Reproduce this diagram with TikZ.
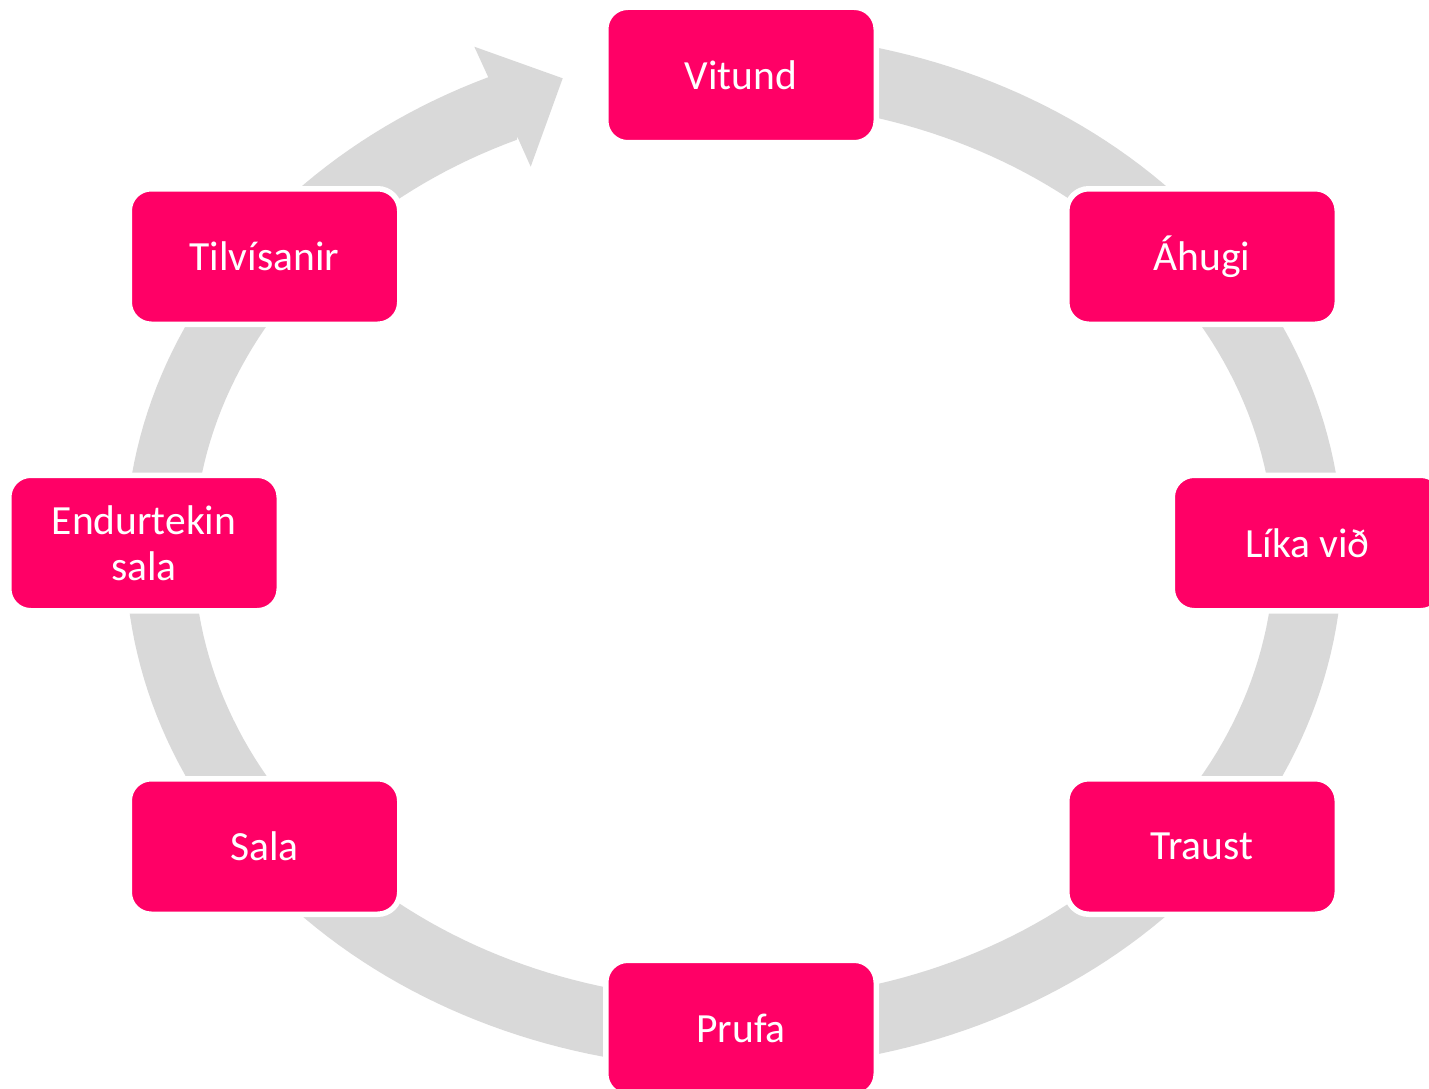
\documentclass[tikz,border=0pt]{standalone}
\usepackage{fontspec}
\setmainfont{Carlito}
\definecolor{stagepink}{HTML}{FF0066}
\definecolor{ringgray}{HTML}{D9D9D9}
\begin{document}
\begin{tikzpicture}[x=1pt,y=-1pt,
  stagebox/.style={rectangle, rounded corners=22pt, fill=stagepink, draw=white,
    line width=5.5pt, minimum width=270.5pt, minimum height=135.5pt, inner sep=0pt,
    text=white, font=\fontsize{41.5}{46}\selectfont, align=center},
  ringfill/.style={fill=ringgray, draw=none}
]
\useasboundingbox (0,0) rectangle (1429,1089);
\clip (0,0) rectangle (1429,1089);

% elliptical cycle band (centre 734,551; radii 574.5 x 483.5; half width 34.3)
% ending in an arrow head that points at the first stage
\path[ringfill]
  plot[domain=-90:246, samples=240]
    ({734+574.5*cos(\x)+34.3*cos(\x)/sqrt(cos(\x)*cos(\x)+1.4118*sin(\x)*sin(\x))},
     {551+483.5*sin(\x)+34.3*1.188*sin(\x)/sqrt(cos(\x)*cos(\x)+1.4118*sin(\x)*sin(\x))})
  -- (488.3,77.3) -- (474.3,46.7) -- (562.7,78.3) -- (530.7,166.7) -- (517.3,136.7)
  -- plot[domain=246.5:-90, samples=240]
    ({734+574.5*cos(\x)-34.3*cos(\x)/sqrt(cos(\x)*cos(\x)+1.4118*sin(\x)*sin(\x))},
     {551+483.5*sin(\x)-34.3*1.188*sin(\x)/sqrt(cos(\x)*cos(\x)+1.4118*sin(\x)*sin(\x))})
  -- cycle;

% stages of the cycle
\node[stagebox] (vitund)     at (741,75)      {Vitund};
\node[stagebox] (ahugi)      at (1202,256.5)  {Áhugi};
\node[stagebox] (likavid)    at (1307.5,543)  {Líka við};
\node[stagebox] (traust)     at (1202,846.5)  {Traust};
\node[stagebox] (prufa)      at (741,1028)    {Prufa};
\node[stagebox] (sala)       at (264.5,846.5) {Sala};
\node[stagebox] (endurtekin) at (144,543)     {Endurtekin\\sala};
\node[stagebox] (tilvisanir) at (264.5,256.5) {Tilvísanir};
\end{tikzpicture}
\end{document}
